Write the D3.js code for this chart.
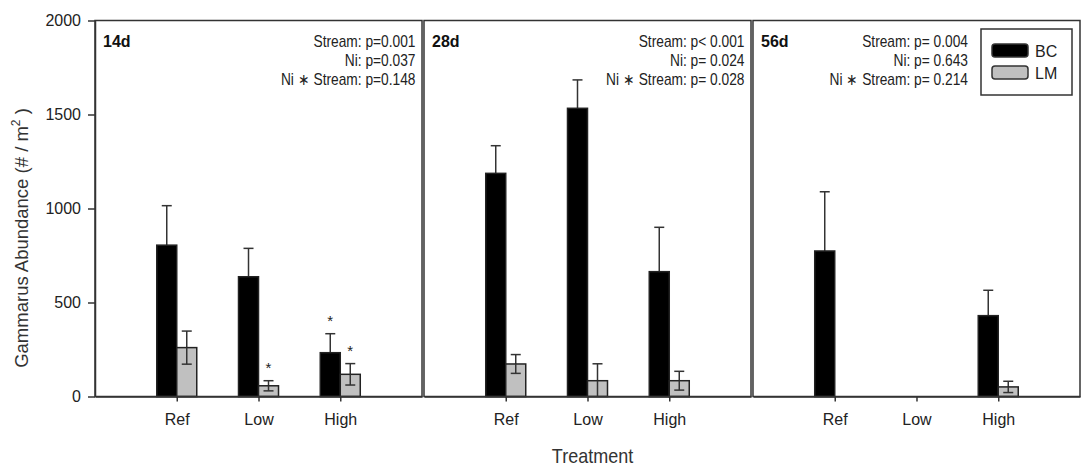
<!DOCTYPE html>
<html>
<head>
<meta charset="utf-8">
<script src="https://cdn.jsdelivr.net/npm/d3@7"></script>
<style>
  body { margin: 0; background: #fff; }
  svg { display: block; font-family: "Liberation Sans", Arial, sans-serif; }
</style>
</head>
<body>
<svg id="chart" width="1085" height="466"></svg>
<script>
// ---------- data ----------
const panels = ["14d", "28d", "56d"];
const treatments = ["Ref", "Low", "High"];
const series = ["BC", "LM"];
const bcMeans = [[805, 637, 233], [1187, 1533, 664], [774, null, 430]];
const bcErrs  = [[210, 151, 101], [147, 151, 236], [315, null, 135]];
const lmMeans = [[260, 57, 118], [173, 84, 84], [null, null, 51]];
const lmErrs  = [[88, 27, 57], [50, 90, 50], [null, null, 30]];
const yTicks = [0, 500, 1000, 1500, 2000];
const statsLines = [
  ["Stream: p=0.001", "Ni: p=0.037", "Ni \u2217 Stream: p=0.148"],
  ["Stream: p< 0.001", "Ni: p= 0.024", "Ni \u2217 Stream: p= 0.028"],
  ["Stream: p= 0.004", "Ni: p= 0.643", "Ni \u2217 Stream: p= 0.214"]
];
const sigMarks = [
  { panel: "14d", treatment: "Low", series: "LM" },
  { panel: "14d", treatment: "High", series: "BC" },
  { panel: "14d", treatment: "High", series: "LM" }
];
const yTitle = "Gammarus Abundance (# / m";
const xTitle = "Treatment";

// ---------- styles ----------
const lineCol = "#333";
const textCol = "#222";
const fills = { BC: "#000", LM: "#c0c0c0" };

const svg = d3.select("#chart");

// ---------- scales ----------
const yScale = d3.scaleLinear().domain([0, 2000]).range([396.5, 20.5]);
const panelX = d3.scaleBand().domain(panels).range([95, 1080]).paddingInner(0.006);
const bw = panelX.bandwidth();
const treatX = d3.scalePoint().domain(treatments).range([0, bw]).padding(1);
const seriesX = d3.scaleBand().domain(series).range([-20, 20]);

const values = { BC: bcMeans, LM: lmMeans };
const errs = { BC: bcErrs, LM: lmErrs };

// ---------- panels ----------
panels.forEach((p, pi) => {
  const g = svg.append("g").attr("transform", `translate(${panelX(p)},0)`);

  // bottom axis
  const xAxis = d3.axisBottom(treatX).tickSize(5).tickSizeOuter(0).tickPadding(12);
  const ax = g.append("g").attr("transform", `translate(0,${yScale(0)})`).call(xAxis);
  ax.select(".domain").attr("stroke", lineCol).attr("stroke-width", 1.5);
  ax.selectAll(".tick line").attr("stroke", lineCol).attr("stroke-width", 1.5);
  ax.selectAll(".tick text").attr("fill", textCol).style("font-size", "16px")
    .style("font-family", "'Liberation Sans', Arial, sans-serif");

  // bars
  const barData = [];
  series.forEach(s => {
    treatments.forEach((t, ti) => {
      const v = values[s][pi][ti];
      if (v != null) barData.push({ s, t, v, e: errs[s][pi][ti] });
    });
  });

  // upper error bars
  const eb = g.append("g").attr("stroke", lineCol).attr("stroke-width", 1.5).attr("fill", "none");
  barData.forEach(d => {
    const cx = treatX(d.t) + seriesX(d.s) + seriesX.bandwidth() / 2;
    const top = yScale(d.v + d.e);
    eb.append("line").attr("x1", cx).attr("x2", cx).attr("y1", top).attr("y2", yScale(d.v));
    eb.append("line").attr("x1", cx - 5).attr("x2", cx + 5).attr("y1", top).attr("y2", top);
  });

  g.append("g").selectAll("rect").data(barData).join("rect")
    .attr("x", d => treatX(d.t) + seriesX(d.s))
    .attr("width", seriesX.bandwidth())
    .attr("y", d => yScale(d.v))
    .attr("height", d => yScale(0) - yScale(d.v))
    .attr("fill", d => fills[d.s])
    .attr("stroke", "#222").attr("stroke-width", 1.5);

  // lower error portion for LM drawn above gray bar
  const eb2 = g.append("g").attr("stroke", lineCol).attr("stroke-width", 1.5);
  barData.filter(d => d.s === "LM").forEach(d => {
    const cx = treatX(d.t) + seriesX(d.s) + seriesX.bandwidth() / 2;
    const lowVal = d.v - d.e;
    eb2.append("line").attr("x1", cx).attr("x2", cx)
      .attr("y1", yScale(d.v)).attr("y2", yScale(Math.max(0, lowVal)));
    if (lowVal > 0) {
      eb2.append("line").attr("x1", cx - 5).attr("x2", cx + 5)
        .attr("y1", yScale(lowVal)).attr("y2", yScale(lowVal));
    }
  });

  // significance marks
  sigMarks.filter(m => m.panel === p).forEach(m => {
    const ti = treatments.indexOf(m.treatment);
    const v = values[m.series][pi][ti], e = errs[m.series][pi][ti];
    const cx = treatX(m.treatment) + seriesX(m.series) + seriesX.bandwidth() / 2;
    g.append("text").attr("x", cx).attr("y", yScale(v + e) - 8)
      .attr("text-anchor", "middle").attr("fill", textCol)
      .style("font-size", "15px").text("*");
  });

  // frame
  g.append("rect").attr("x", 0).attr("y", yScale(2000)).attr("width", bw)
    .attr("height", yScale(0) - yScale(2000))
    .attr("fill", "none").attr("stroke", lineCol).attr("stroke-width", 1.5);

  // panel title
  g.append("text").attr("x", 8).attr("y", 46.5).attr("fill", "#111")
    .style("font-size", "16px").style("font-weight", "bold").text(p);

  // stats text (slightly condensed)
  const rightEdge = pi === 2 ? 215 : bw - 6.5;
  statsLines[pi].forEach((line, li) => {
    g.append("g").attr("transform", `translate(${rightEdge},${47 + li * 19}) scale(0.86,1)`)
      .append("text").attr("text-anchor", "end").attr("fill", textCol)
      .style("font-size", "16px").text(line);
  });
});

// ---------- y axis ----------
const yAxis = d3.axisLeft(yScale).tickValues(yTicks).tickSize(7).tickSizeOuter(0).tickPadding(7)
  .tickFormat(d3.format("d"));
const yax = svg.append("g").attr("transform", `translate(${panelX(panels[0])},0)`).call(yAxis);
yax.select(".domain").attr("stroke", lineCol).attr("stroke-width", 1.5);
yax.selectAll(".tick line").attr("stroke", lineCol).attr("stroke-width", 1.5);
yax.selectAll(".tick text").attr("fill", textCol).style("font-size", "16px")
  .style("font-family", "'Liberation Sans', Arial, sans-serif");

// y title
const yt = svg.append("g").attr("transform", "translate(28,238) rotate(-90)")
  .append("text").attr("text-anchor", "middle").attr("fill", "#333").style("font-size", "18.5px");
yt.append("tspan").text(yTitle);
yt.append("tspan").attr("dy", -8).style("font-size", "12px").text("2");
yt.append("tspan").attr("dy", 8).text(" )");

// x title
svg.append("g").attr("transform", `translate(${panelX(panels[1]) + bw / 2 + 5},463) scale(0.9,1)`)
  .append("text").attr("text-anchor", "middle").attr("fill", "#333")
  .style("font-size", "20px").text(xTitle);

// ---------- legend ----------
const lg = svg.append("g").attr("transform", "translate(981,29)");
lg.append("rect").attr("width", 91).attr("height", 66).attr("fill", "#fff")
  .attr("stroke", lineCol).attr("stroke-width", 1.5);
series.forEach((s, i) => {
  lg.append("rect").attr("x", 11).attr("y", 15 + i * 22).attr("width", 36).attr("height", 13)
    .attr("rx", 3).attr("fill", fills[s]).attr("stroke", "#333").attr("stroke-width", 1.5);
  lg.append("text").attr("x", 54).attr("y", 28 + i * 22).attr("fill", textCol)
    .style("font-size", "16px").text(s);
});
</script>
</body>
</html>
